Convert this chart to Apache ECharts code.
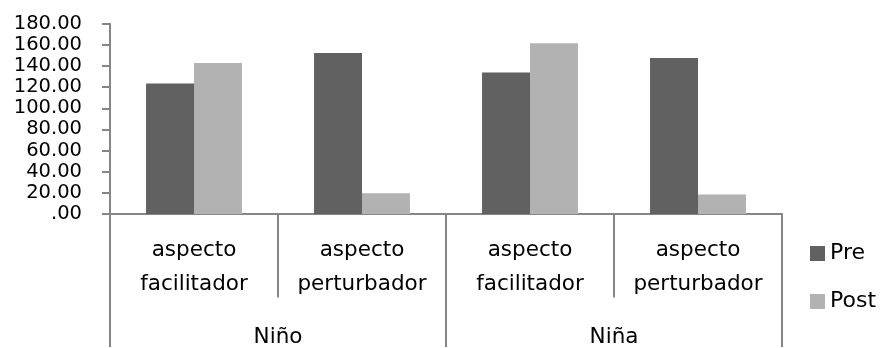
<!DOCTYPE html>
<html>
<head>
<meta charset="utf-8">
<script src="https://cdn.jsdelivr.net/npm/echarts@6/dist/echarts.min.js"></script>
<style>
  html, body { margin: 0; padding: 0; background: #fff; }
  #chart { width: 882px; height: 348px; }
</style>
</head>
<body>
<div id="chart"></div>
<script>
// Sub-categories (inner axis) and their groups (outer axis)
const aspects = ['aspecto\nfacilitador', 'aspecto\nperturbador', 'aspecto\nfacilitador', 'aspecto\nperturbador'];
const groups = ['Niño', 'Niña'];
const seriesNames = ['Pre', 'Post'];
const preValues = [123.5, 152.2, 133.8, 147.5];
const postValues = [142.9, 19.7, 161.6, 18.5];
const yTicks = { min: 0, max: 180, interval: 20 };

const FONT = 'DejaVu Sans';
const AXIS_GRAY = '#868686';

const chart = echarts.init(document.getElementById('chart'), null, { renderer: 'canvas' });

chart.setOption({
  animation: false,
  textStyle: { fontFamily: FONT },
  grid: { left: 110, right: 100, top: 23.7, bottom: 132.3, containLabel: false },
  legend: {
    orient: 'vertical',
    left: 810,
    top: 241,
    padding: 0,
    itemWidth: 15,
    itemHeight: 15,
    itemGap: 23,
    icon: 'rect',
    data: seriesNames,
    textStyle: { fontFamily: FONT, fontSize: 22, color: '#000', lineHeight: 25 }
  },
  xAxis: [
    {
      type: 'category',
      data: aspects,
      position: 'bottom',
      boundaryGap: true,
      axisLine: { show: true, lineStyle: { color: AXIS_GRAY, width: 2 } },
      axisTick: { show: true, interval: 0, length: 83.5, lineStyle: { color: AXIS_GRAY, width: 2 } },
      axisLabel: {
        interval: 0, margin: 19, color: '#000', fontFamily: FONT, fontSize: 21.5, lineHeight: 34
      }
    },
    {
      type: 'category',
      data: groups,
      position: 'bottom',
      boundaryGap: true,
      axisLine: { show: false },
      axisTick: { show: true, interval: 0, length: 133, lineStyle: { color: AXIS_GRAY, width: 2 } },
      axisLabel: { interval: 0, margin: 112, color: '#000', fontFamily: FONT, fontSize: 21.5 }
    }
  ],
  yAxis: {
    type: 'value',
    min: yTicks.min,
    max: yTicks.max,
    interval: yTicks.interval,
    splitLine: { show: false },
    axisLine: { show: true, lineStyle: { color: AXIS_GRAY, width: 2 } },
    axisTick: { show: true, length: 8, lineStyle: { color: AXIS_GRAY, width: 2 } },
    axisLabel: {
      margin: 28,
      color: '#000',
      fontFamily: FONT,
      fontSize: 19.5,
      formatter: v => (v === 0 ? '.00' : v.toFixed(2))
    }
  },
  series: [
    {
      name: seriesNames[0],
      type: 'bar',
      xAxisIndex: 0,
      data: preValues,
      barGap: '0%',
      barCategoryGap: '42.9%',
      itemStyle: { color: '#616161' }
    },
    {
      name: seriesNames[1],
      type: 'bar',
      xAxisIndex: 0,
      data: postValues,
      barGap: '0%',
      barCategoryGap: '42.9%',
      itemStyle: { color: '#b2b2b2' }
    }
  ]
});
</script>
</body>
</html>
